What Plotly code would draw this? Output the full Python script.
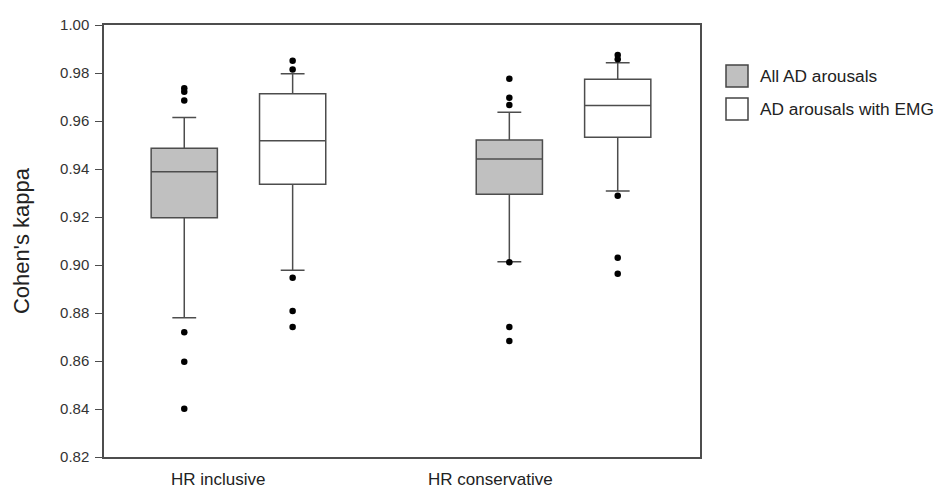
import plotly.graph_objects as go

# ---------------- data ----------------
groups = ["HR inclusive", "HR conservative"]
series = ["All AD arousals", "AD arousals with EMG"]

all_q1 = [0.9197, 0.9295]
all_median = [0.9389, 0.9442]
all_q3 = [0.9486, 0.9521]
all_lower = [0.8780, 0.9014]
all_upper = [0.9615, 0.9636]

emg_q1 = [0.9336, 0.9532]
emg_median = [0.9518, 0.9665]
emg_q3 = [0.9714, 0.9774]
emg_lower = [0.8978, 0.9308]
emg_upper = [0.9797, 0.9843]

all_outliers = [
    [0.9736, 0.9722, 0.9685, 0.8720, 0.8597, 0.8401],
    [0.9776, 0.9697, 0.9667, 0.9011, 0.8742, 0.8683],
]
emg_outliers = [
    [0.9851, 0.9815, 0.8947, 0.8808, 0.8742],
    [0.9875, 0.9857, 0.9289, 0.9030, 0.8964],
]

y_ticks = [0.82, 0.84, 0.86, 0.88, 0.90, 0.92, 0.94, 0.96, 0.98, 1.00]

# ---------------- layout constants ----------------
W, H = 940, 488
PL, PR, PT, PB = 104, 700, 25, 457
group_pos = [0, 1]
series_offset = [-0.1667, 0.1667]
box_width = 0.2037
label_pos = [-0.062, 0.775]
x_range = [-0.4136, 1.4198]
fills = ["#c0c0c0", "#ffffff"]
LINE = "#4d4d4d"
FONT = "Arial, Liberation Sans, sans-serif"

stats = [
    (all_q1, all_median, all_q3, all_lower, all_upper, all_outliers),
    (emg_q1, emg_median, emg_q3, emg_lower, emg_upper, emg_outliers),
]

fig = go.Figure()
for si, (q1, med, q3, lo, hi, outs) in enumerate(stats):
    xs = [p + series_offset[si] for p in group_pos]
    fig.add_trace(go.Box(
        name=series[si], x=xs, q1=q1, median=med, q3=q3,
        lowerfence=lo, upperfence=hi, width=box_width,
        fillcolor=fills[si], line=dict(color=LINE, width=1.5),
        whiskerwidth=0.36, boxpoints=False, showlegend=False,
    ))
    ox, oy = [], []
    for gi, vals in enumerate(outs):
        ox += [xs[gi]] * len(vals)
        oy += vals
    fig.add_trace(go.Scatter(
        x=ox, y=oy, mode="markers", showlegend=False,
        marker=dict(color="black", size=6.5),
    ))

# custom legend (large square swatches)
def px2paper_x(px):
    return (px - PL) / (PR - PL)

def px2paper_y(py):
    return (PB - py) / (PB - PT)

shapes = []
annotations = []
leg_top = [65, 98]
for i, name in enumerate(series):
    y0, y1 = leg_top[i], leg_top[i] + 22
    shapes.append(dict(
        type="rect", xref="paper", yref="paper",
        x0=px2paper_x(726), x1=px2paper_x(748),
        y0=px2paper_y(y1), y1=px2paper_y(y0),
        fillcolor=fills[i], line=dict(color="#444444", width=1.5),
    ))
    annotations.append(dict(
        text=name, xref="paper", yref="paper",
        x=px2paper_x(758), y=px2paper_y((y0 + y1) / 2),
        xanchor="left", yanchor="middle", showarrow=False,
        font=dict(family=FONT, size=17.3, color="#222222"),
    ))

fig.update_layout(
    width=W, height=H,
    margin=dict(l=PL, r=W - PR, t=PT, b=H - PB),
    paper_bgcolor="white", plot_bgcolor="white",
    font=dict(family=FONT, color="#222222"),
    shapes=shapes, annotations=annotations,
    showlegend=False,
)
fig.update_xaxes(
    range=x_range, tickmode="array", tickvals=label_pos, ticktext=groups,
    ticks="", showgrid=False, zeroline=False,
    showline=True, linecolor=LINE, linewidth=1.5, mirror=True,
    tickfont=dict(family=FONT, size=17, color="#222222"),
    ticklabelstandoff=6, automargin=False,
)
fig.update_yaxes(
    range=[0.82, 1.00], tickmode="array", tickvals=y_ticks,
    tickformat=".2f", ticks="outside", ticklen=7, tickcolor=LINE, tickwidth=1.2,
    showgrid=False, zeroline=False,
    showline=True, linecolor=LINE, linewidth=1.5, mirror=True,
    tickfont=dict(family=FONT, size=15, color="#333333"),
    ticklabelstandoff=3, automargin=False,
    title=dict(text="Cohen's kappa", font=dict(family=FONT, size=22, color="#222222"), standoff=24),
)

fig.write_html("out.html")
